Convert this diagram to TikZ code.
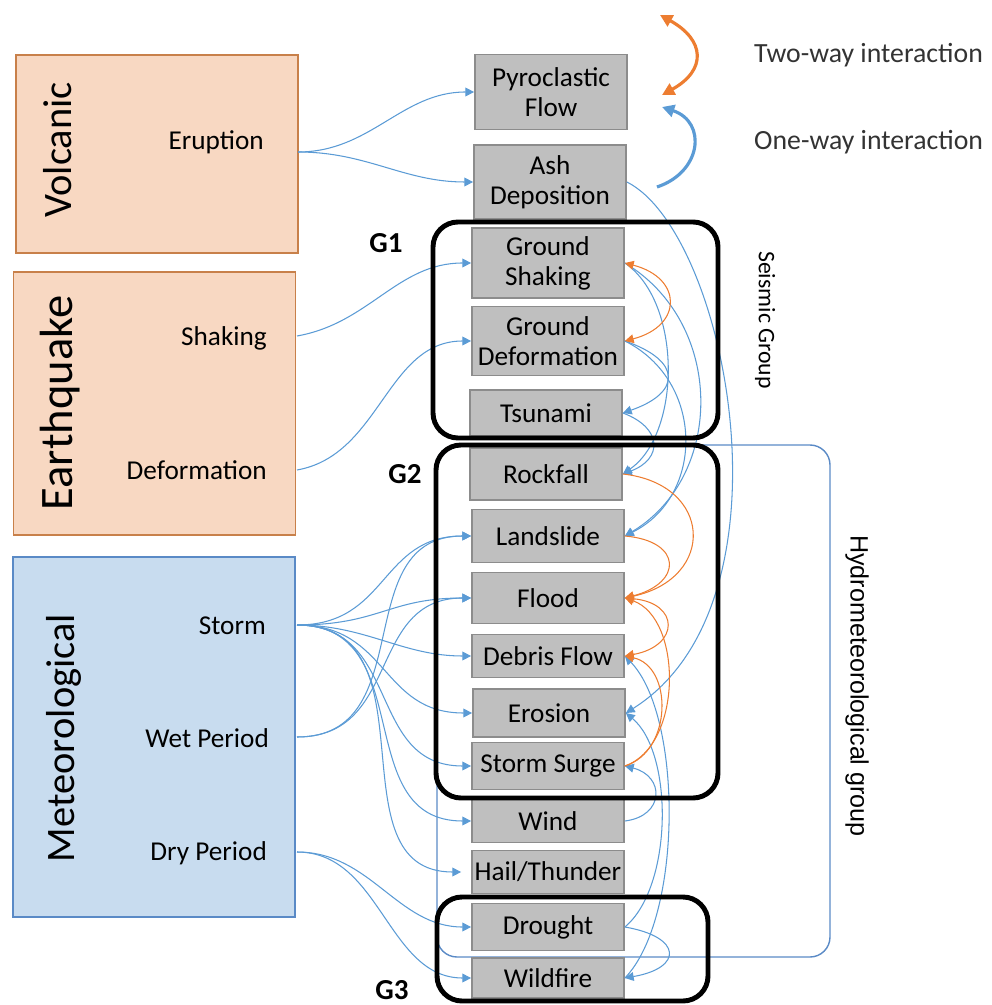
\documentclass[tikz,border=0pt]{standalone}
\usepackage{fontspec}
\setmainfont{Carlito}
\newfontfamily\arialfont{Liberation Sans}
\usetikzlibrary{arrows.meta}
\definecolor{peach}{HTML}{F8D8C2}
\definecolor{peachline}{HTML}{C8804A}
\definecolor{skyfill}{HTML}{C8DCEF}
\definecolor{skyline}{HTML}{5A8AC6}
\definecolor{linkblue}{HTML}{5B9BD5}
\definecolor{linkorange}{HTML}{ED7D31}
\definecolor{boxgrey}{HTML}{BFBFBF}
\definecolor{boxline}{HTML}{8C8C8C}
\begin{document}
\begin{tikzpicture}[x=0.2mm, y=-0.2mm,
    hazard/.style={draw=boxline, fill=boxgrey, line width=1pt, minimum width=30.4mm, inner sep=0pt, align=center, font=\fontsize{15.5}{17}\selectfont},
    cat/.style={line width=1pt, minimum width=56.4mm},
    catname/.style={rotate=90, font=\fontsize{23}{26}\selectfont},
    trigger/.style={anchor=east, font=\fontsize{15.5}{17}\selectfont},
    group/.style={draw=black, line width=2.8pt, rounded corners=5mm},
    glabel/.style={font=\bfseries\fontsize{16.5}{18}\selectfont},
    oneway/.style={draw=linkblue, line width=0.6pt, -{Triangle[length=5pt,width=5pt]}},
    twoway/.style={draw=linkorange, line width=0.6pt, -{Triangle[length=5pt,width=5pt]}},
    twohead/.style={{Triangle[length=5pt,width=5pt]}-{Triangle[length=5pt,width=5pt]}}
]
\useasboundingbox (0,0) rectangle (992,1005);

% trigger categories
\node[cat, draw=peachline, fill=peach, minimum height=39.6mm] (volc) at (157,154) {};
\node[cat, draw=peachline, fill=peach, minimum height=52.6mm] (quake) at (154.5,403.5) {};
\node[cat, draw=skyline, fill=skyfill, minimum height=72mm] (meteo) at (154,737) {};
\node[catname] (volcname) at (58,150) {Volcanic};
\node[catname, font=\fontsize{26.5}{28}\selectfont] (quakename) at (60,403) {Earthquake};
\node[catname] (meteoname) at (64,738) {Meteorological};
\node[trigger] (erupt) at (270,142) {Eruption};
\node[trigger] (shake) at (273,338) {Shaking};
\node[trigger] (deform) at (273,470) {Deformation};
\node[trigger] (storm) at (272,626) {Storm};
\node[trigger] (wet) at (275,738) {Wet Period};
\node[trigger] (dry) at (273,853) {Dry Period};
\coordinate (eruptout) at (298,152);
\coordinate (shakeout) at (297,336);
\coordinate (deformout) at (297,470);
\coordinate (stormout) at (297,625);
\coordinate (wetout) at (297,737);
\coordinate (dryout) at (297,852);

% hydrometeorological group
\draw[draw=skyline, line width=0.8pt, rounded corners=4mm] (437,445) rectangle (830,957);

% hazards
\node[hazard, minimum height=15mm] (pf) at (551,92) {Pyroclastic\\Flow};
\node[hazard, minimum height=14.8mm] (ash) at (550,182) {Ash\\Deposition};
\node[hazard, minimum height=14mm] (gs) at (548,263) {Ground\\Shaking};
\node[hazard, minimum height=13.8mm] (gd) at (548,341) {Ground\\Deformation};
\node[hazard, minimum height=9.2mm] (tsu) at (546,413) {Tsunami};
\node[hazard, minimum height=10.4mm] (rock) at (546,474) {Rockfall};
\node[hazard, minimum height=10.6mm] (land) at (548,536) {Landslide};
\node[hazard, minimum height=10.2mm] (flood) at (548,598) {Flood};
\node[hazard, minimum height=8.6mm] (debris) at (548,656) {Debris Flow};
\node[hazard, minimum height=9.6mm] (eros) at (549,713) {Erosion};
\node[hazard, minimum height=9.4mm] (surge) at (548,766) {Storm Surge};
\node[hazard, minimum height=8.6mm] (wind) at (548,821) {Wind};
\node[hazard, minimum height=8.6mm] (hail) at (548,872) {Hail/Thunder};
\node[hazard, minimum height=9.4mm] (drought) at (548,927) {Drought};
\node[hazard, minimum height=8mm] (wild) at (548,978) {Wildfire};

% triggers to hazards
\draw[oneway] (eruptout) to[out=0,in=180] (pf.west);
\draw[oneway] (eruptout) to[out=0,in=180] (ash.west);
\draw[oneway] (shakeout) to[out=10,in=180] (gs.west);
\draw[oneway] (deformout) to[out=10,in=180] (gd.west);
\draw[oneway] (stormout) to[out=0,in=180,looseness=1.2] (land.west);
\draw[oneway] (stormout) to[out=0,in=180,looseness=1.2] (flood.west);
\draw[oneway] (stormout) to[out=0,in=180] (debris.west);
\draw[oneway] (stormout) to[out=0,in=180,looseness=1.2] (eros.west);
\draw[oneway] (stormout) to[out=0,in=180,looseness=1.2] (surge.west);
\draw[oneway] (stormout) to[out=0,in=180,looseness=1.2] (wind.west);
\draw[oneway, shorten >=2mm] (stormout) to[out=0,in=180,looseness=1.2] (hail.west);
\draw[oneway] (wetout) to[out=0,in=180,looseness=1.2] (land.west);
\draw[oneway] (wetout) to[out=0,in=180,looseness=1.2] (flood.west);
\draw[oneway] (dryout) to[out=0,in=180] (drought.west);
\draw[oneway] (dryout) to[out=0,in=180] (wild.west);

% hazard to hazard
\draw[oneway] (ash.east) .. controls +(100,50) and +(175,-110) .. (eros.east);
\draw[oneway] (gs.east) .. controls +(58,40) and +(58,-40) .. (rock.east);
\draw[oneway] (gs.east) .. controls +(100,60) and +(100,-60) .. (land.east);
\draw[oneway] (gd.east) .. controls +(58,20) and +(58,-20) .. (tsu.east);
\draw[oneway] (gd.east) .. controls +(80,40) and +(80,-40) .. (land.east);
\draw[oneway] (tsu.east) .. controls +(40,15) and +(40,-15) .. (rock.east);
\draw[oneway] (wind.east) .. controls +(40,-5) and +(40,10) .. (surge.east);
\draw[oneway] (drought.east) .. controls +(58,10) and +(58,-10) .. (wild.east);
\draw[oneway] (drought.east) .. controls +(48,-40) and +(48,40) .. (eros.east);
\draw[oneway] (wild.east) .. controls +(58,-60) and +(58,60) .. (debris.east);
\draw[twoway, twohead] (gs.east) .. controls +(58,15) and +(58,-15) .. (gd.east);
\draw[twoway] (rock.east) .. controls +(90,10) and +(92,-20) .. (flood.east);
\draw[twoway] (land.east) .. controls +(58,5) and +(58,-15) .. (flood.east);
\draw[twoway, twohead] (flood.east) .. controls +(55,5) and +(55,-10) .. (debris.east);
\draw[twoway] (surge.east) .. controls +(58,-20) and +(58,20) .. (flood.east);
\draw[twoway] (surge.east) .. controls +(48,-15) and +(48,10) .. (debris.east);

% groups
\draw[group] (433,222) rectangle (718,438);
\draw[group] (436,445) rectangle (718,798);
\draw[group] (437,897) rectangle (708,1001);
\node[glabel] (g1) at (386,243) {G1};
\node[glabel] (g2) at (405,474) {G2};
\node[glabel] (g3) at (392,990) {G3};
\node[rotate=-90, font=\fontsize{13.5}{15}\selectfont] (seis) at (765,320) {Seismic Group};
\node[rotate=-90, font=\arialfont\fontsize{14.3}{16}\selectfont] (hydro) at (857,686) {Hydrometeorological group};

% legend
\coordinate (twoA) at (660,15);
\coordinate (twoB) at (662,95);
\coordinate (oneA) at (657,187);
\coordinate (oneB) at (662,107);
\draw[draw=linkorange, line width=1.8pt, {Triangle[length=7pt,width=7pt]}-{Triangle[length=7pt,width=7pt]}] (twoA) .. controls +(45,25) and +(45,-25) .. (twoB);
\draw[draw=linkblue, line width=1.8pt, -{Triangle[length=7pt,width=7pt]}] (oneA) .. controls +(45,-15) and +(45,15) .. (oneB);
\node[anchor=west, font=\fontsize{15.8}{17}\selectfont, text=black!80] (twotxt) at (748,55) {Two-way interaction};
\node[anchor=west, font=\fontsize{15.8}{17}\selectfont, text=black!80] (onetxt) at (748,142) {One-way interaction};
\end{tikzpicture}
\end{document}
